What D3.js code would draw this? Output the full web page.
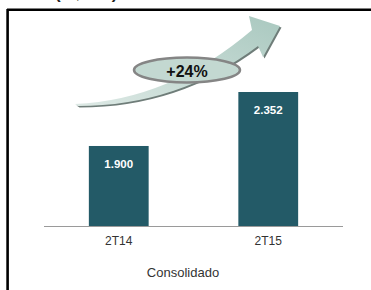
<!DOCTYPE html>
<html>
<head>
<meta charset="utf-8">
<script src="https://cdn.jsdelivr.net/npm/d3@7"></script>
<style>
  body { margin: 0; background: #fff; }
  svg { display: block; font-family: Arial, "Liberation Sans", sans-serif; }
</style>
</head>
<body>
<div id="container"></div>
<script>
// Chart data
const categories = ["2T14", "2T15"];
const values = [1900, 2352];
const valueLabels = ["1.900", "2.352"];
const growthLabel = "+24%";
const axisTitle = "Consolidado";
const unitTitle = "(R$ mil)";

const width = 371, height = 290;

const svg = d3.select("#container").append("svg")
    .attr("width", width)
    .attr("height", height);

// Scales
const x = d3.scaleBand()
    .domain(categories)
    .range([44, 343])
    .paddingInner(0.6)
    .paddingOuter(0.3);

const y = d3.scaleLinear()
    .domain([1230, 2620])
    .range([226, 60]);

// Cut-off title at the very top
svg.append("text")
    .attr("x", 55)
    .attr("y", -1)
    .style("font-size", "17px")
    .style("font-weight", "bold")
    .style("fill", "#222")
    .text(unitTitle);

// Frame (top and left only)
svg.append("line")
    .attr("x1", 7).attr("x2", width)
    .attr("y1", 9.8).attr("y2", 9.8)
    .style("stroke", "#000").style("stroke-width", 2.6);
svg.append("line")
    .attr("x1", 7.6).attr("x2", 7.6)
    .attr("y1", 9).attr("y2", height)
    .style("stroke", "#000").style("stroke-width", 2.6);

// Growth arrow
const defs = svg.append("defs");
const grad = defs.append("linearGradient")
    .attr("id", "arrowGrad")
    .attr("x1", "0%").attr("y1", "100%")
    .attr("x2", "100%").attr("y2", "0%");
grad.append("stop").attr("offset", "0%").attr("stop-color", "#dde9e5");
grad.append("stop").attr("offset", "100%").attr("stop-color", "#a9c8bf");

const arrowPath = "M75,104 Q170,100 252,30 L249,16 L280,26 L263,57 L258,46 Q178,106 78,106 Z";
svg.append("path")
    .attr("d", arrowPath)
    .attr("transform", "translate(1.5,1.5)")
    .style("fill", "#6f7d79");
svg.append("path")
    .attr("d", arrowPath)
    .style("fill", "url(#arrowGrad)");

// Ellipse badge
svg.append("ellipse")
    .attr("cx", 187).attr("cy", 70)
    .attr("rx", 53).attr("ry", 12.5)
    .style("fill", "#c3d8d1")
    .style("stroke", "#858585")
    .style("stroke-width", 2.5);
svg.append("text")
    .attr("x", 187).attr("y", 71)
    .attr("dy", "0.35em")
    .attr("text-anchor", "middle")
    .style("font-size", "16px")
    .style("font-weight", "bold")
    .style("fill", "#111")
    .text(growthLabel);

// Bars
svg.selectAll(".bar")
    .data(values)
    .enter().append("rect")
    .attr("class", "bar")
    .attr("x", (d, i) => x(categories[i]))
    .attr("y", d => y(d))
    .attr("width", x.bandwidth())
    .attr("height", d => y.range()[0] - y(d))
    .style("fill", "#235a67");

svg.selectAll(".val")
    .data(values)
    .enter().append("text")
    .attr("class", "val")
    .attr("x", (d, i) => x(categories[i]) + x.bandwidth() / 2)
    .attr("y", d => y(d) + 18)
    .attr("dy", "0.35em")
    .attr("text-anchor", "middle")
    .style("font-size", "11.5px")
    .style("font-weight", "bold")
    .style("fill", "#fff")
    .text((d, i) => valueLabels[i]);

// X axis
const xAxis = svg.append("g")
    .attr("transform", `translate(0,${y.range()[0]})`)
    .call(d3.axisBottom(x).tickSize(0).tickPadding(10));
xAxis.select(".domain").style("stroke", "#9a9a9a").attr("d", "M44,0.5H343");
xAxis.selectAll("text")
    .style("font-size", "12px")
    .style("fill", "#333")
    .style("font-family", "Arial, 'Liberation Sans', sans-serif");

svg.append("text")
    .attr("x", 183)
    .attr("y", 272)
    .attr("dy", "0.35em")
    .attr("text-anchor", "middle")
    .style("font-size", "13px")
    .style("fill", "#333")
    .text(axisTitle);
</script>
</body>
</html>
